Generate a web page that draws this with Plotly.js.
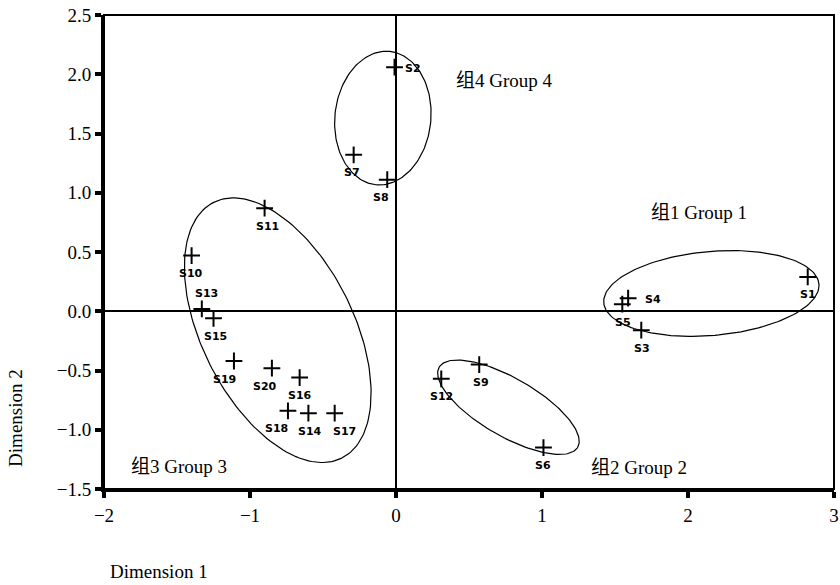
<!DOCTYPE html>
<html><head><meta charset="utf-8">
<script src="https://cdn.plot.ly/plotly-3.0.1.min.js"></script>
<style>body{margin:0;background:#fff}</style>
</head><body>
<div id="chart" style="width:840px;height:585px"></div>
<script>
// sample points
const names = ["S1","S2","S3","S4","S5","S6","S7","S8","S9","S10","S11","S12","S13","S14","S15","S16","S17","S18","S19","S20"];
const dim1  = [2.82,-0.01,1.68,1.59,1.55,1.01,-0.29,-0.06,0.57,-1.40,-0.90,0.31,-1.33,-0.60,-1.25,-0.66,-0.42,-0.74,-1.11,-0.85];
const dim2  = [0.29,2.06,-0.16,0.11,0.06,-1.15,1.32,1.11,-0.45,0.47,0.87,-0.57,0.02,-0.86,-0.06,-0.56,-0.86,-0.84,-0.42,-0.48];
// label placement (style only): side and horizontal nudge in px
const labelSide = ["bottom","right","bottom","right","bottom","bottom","bottom","bottom","bottom","bottom","bottom","bottom","top","bottom","bottom","bottom","bottom","bottom","bottom","bottom"];
const labelDx   = [0, 8, 1, 15, 1, 0, -2, -6, 2, -1, 3, 0, 5, 2, 2, 0, 10, -11, -9, -7];

// group ellipses: centre (data units), semi-axes (screen px), rotation (deg)
const groupNames = ["组1 Group 1","组2 Group 2","组3 Group 3","组4 Group 4"];
const ellCx  = [2.16, 0.77, -0.81, -0.09];
const ellCy  = [0.15, -0.81, -0.16, 1.63];
const ellA   = [108, 80, 143, 67];
const ellB   = [42, 29, 76, 48];
const ellRot = [5, -30, -63.4, 84];
const groupLabelX = [1.73, 1.32, -1.83, 0.40];
const groupLabelY = [0.83, -1.32, -1.31, 1.95];

const xRange = [-2, 3], yRange = [-1.5, 2.5];
const W = 840, H = 585, mL = 104, mR = 6, mT = 15, mB = 96;
const kx = (W - mL - mR) / (xRange[1] - xRange[0]);
const ky = (H - mT - mB) / (yRange[1] - yRange[0]);

const traces = [];
for (let g = 0; g < ellCx.length; g++) {
  const ex = [], ey = [];
  const th = ellRot[g] * Math.PI / 180;
  for (let i = 0; i <= 180; i++) {
    const t = 2 * Math.PI * i / 180;
    const u = ellA[g] * Math.cos(t), v = ellB[g] * Math.sin(t);
    ex.push(ellCx[g] + (u * Math.cos(th) - v * Math.sin(th)) / kx);
    ey.push(ellCy[g] + (u * Math.sin(th) + v * Math.cos(th)) / ky);
  }
  traces.push({x: ex, y: ey, mode: "lines", line: {color: "#000", width: 1.2}, hoverinfo: "skip", showlegend: false});
}
traces.push({
  x: dim1, y: dim2, mode: "markers",
  marker: {symbol: "cross-thin", size: 12, line: {color: "#000", width: 2}, color: "#000"},
  showlegend: false, cliponaxis: false, hoverinfo: "skip"
});

const annotations = groupNames.map((t, i) => ({
  x: groupLabelX[i], y: groupLabelY[i], xref: "x", yref: "y", text: t, showarrow: false,
  xanchor: "left", yanchor: "middle",
  font: {family: "Liberation Serif, Noto Sans CJK SC", size: 19, color: "#000"}
}));
names.forEach((n, i) => {
  const side = labelSide[i];
  annotations.push({
    x: dim1[i], y: dim2[i], xref: "x", yref: "y", text: n, showarrow: false,
    xanchor: side === "right" ? "left" : "center", yanchor: "middle",
    xshift: labelDx[i], yshift: side === "bottom" ? -18 : (side === "top" ? 15 : -1),
    font: {family: "DejaVu Sans", size: 11, color: "#000", weight: "bold"}
  });
});
annotations.push({xref: "paper", yref: "paper", x: 0.0, y: -0.175, xanchor: "left", yanchor: "middle", xshift: 4,
  text: "Dimension 1", showarrow: false, font: {family: "Liberation Serif", size: 19, color: "#000"}});
annotations.push({xref: "paper", yref: "paper", x: 0, y: 0.15, xanchor: "center", yanchor: "middle", xshift: -88,
  text: "Dimension 2", textangle: -90, showarrow: false, font: {family: "Liberation Serif", size: 19, color: "#000"}});

const axisCommon = {
  showgrid: false, zeroline: true, zerolinecolor: "#000", zerolinewidth: 2,
  showline: true, linecolor: "#000", linewidth: 3, mirror: false,
  ticks: "outside", ticklen: 6, tickwidth: 4, tickcolor: "#000",
  tickfont: {family: "Liberation Serif", size: 19, color: "#000"}
};

const layout = {
  width: W, height: H, margin: {l: mL, r: mR, t: mT, b: mB},
  paper_bgcolor: "#fff", plot_bgcolor: "#fff", showlegend: false,
  xaxis: Object.assign({}, axisCommon, {range: xRange, dtick: 1, tickformat: "d", ticklabelstandoff: 1}),
  yaxis: Object.assign({}, axisCommon, {range: yRange, dtick: 0.5, tickformat: ".1f", ticklabelstandoff: 0}),
  shapes: [{type: "rect", xref: "paper", yref: "paper", x0: 0, x1: 1, y0: 0, y1: 1, line: {color: "#000", width: 2}}],
  annotations: annotations
};
Plotly.newPlot("chart", traces, layout, {staticPlot: true});
</script>
</body></html>
